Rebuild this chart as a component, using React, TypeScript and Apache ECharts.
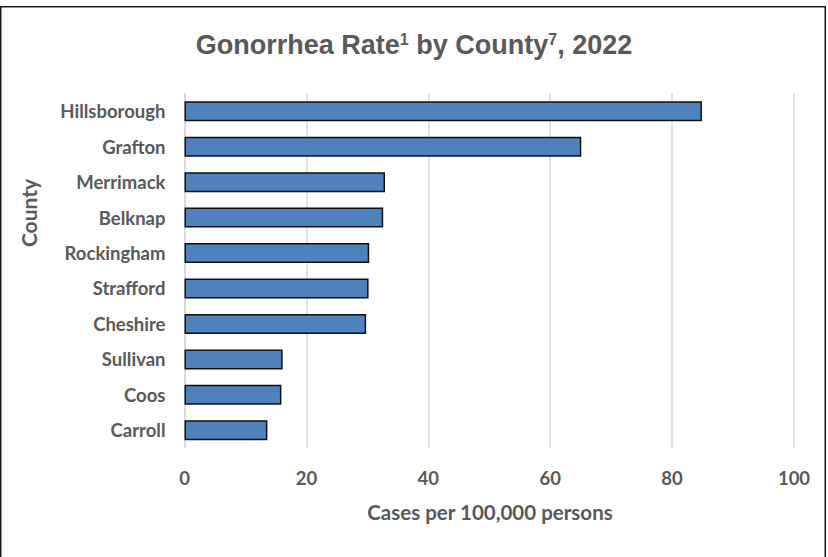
import React, { useEffect, useRef } from "react";
import * as echarts from "echarts";

const counties = [
  "Hillsborough",
  "Grafton",
  "Merrimack",
  "Belknap",
  "Rockingham",
  "Strafford",
  "Cheshire",
  "Sullivan",
  "Coos",
  "Carroll",
];
const rates = [84.9, 65.1, 32.9, 32.6, 30.3, 30.2, 29.8, 16.1, 15.9, 13.6];
const xTicks = [0, 20, 40, 60, 80, 100];

const TEXT = "#595959";
const LABEL_FONT = "Lato, 'Open Sans', sans-serif";

export default function App() {
  const ref = useRef<HTMLDivElement>(null);
  useEffect(() => {
    if (!ref.current) return;
    const chart = echarts.init(ref.current, null, { renderer: "svg" });
    chart.setOption({
      animation: false,
      backgroundColor: "#ffffff",
      title: {
        text: "{m|Gonorrhea Rate}{s|1}{m| by County}{s|7}{m|, 2022}",
        left: "center",
        top: 24,
        textStyle: {
          rich: {
            m: {
              fontFamily: "'Liberation Sans', Arial, sans-serif",
              fontWeight: "bold",
              fontSize: 27,
              color: TEXT,
              lineHeight: 32,
            },
            s: {
              fontFamily: "'Liberation Sans', Arial, sans-serif",
              fontWeight: "bold",
              fontSize: 16,
              color: TEXT,
              lineHeight: 32,
              padding: [0, 0, 12, 0],
            },
          },
        },
      },
      grid: { left: 184.5, right: 34, top: 93.5, bottom: 109 },
      xAxis: {
        type: "value",
        min: 0,
        max: 100,
        interval: 20,
        axisLine: { show: false },
        axisTick: { show: false },
        splitLine: { lineStyle: { color: "#d9d9d9", width: 1.5 } },
        axisLabel: {
          margin: 20,
          color: TEXT,
          fontFamily: LABEL_FONT,
          fontWeight: "bold",
          fontSize: 18.5,
          formatter: (v: number) => (xTicks.includes(v) ? String(v) : ""),
        },
      },
      yAxis: {
        type: "category",
        data: counties,
        inverse: true,
        axisLine: { show: true, lineStyle: { color: "#d9d9d9", width: 1.5 } },
        axisTick: { show: false },
        axisLabel: {
          margin: 19,
          color: TEXT,
          fontFamily: LABEL_FONT,
          fontWeight: "bold",
          fontSize: 18.5,
        },
      },
      series: [
        {
          type: "bar",
          data: rates,
          barWidth: 20,
          itemStyle: {
            color: "#4F81BD",
            borderColor: "#111111",
            borderWidth: 1.5,
          },
        },
      ],
      graphic: [
        {
          type: "rect",
          shape: { x: 0.75, y: 6.75, width: 824.5, height: 600 },
          style: { fill: "none", stroke: "#1a1a1a", lineWidth: 1.5 },
          silent: true,
        },
        {
          type: "text",
          x: 490,
          y: 512,
          style: {
            text: "Cases per 100,000 persons",
            fill: TEXT,
            font: `bold 20.5px ${LABEL_FONT}`,
            textAlign: "center",
            textVerticalAlign: "middle",
          },
        },
        {
          type: "text",
          x: 28,
          y: 213,
          rotation: Math.PI / 2,
          style: {
            text: "County",
            fill: TEXT,
            font: `bold 21px ${LABEL_FONT}`,
            textAlign: "center",
            textVerticalAlign: "middle",
          },
        },
      ],
    });
    return () => chart.dispose();
  }, []);
  return (
    <div
      ref={ref}
      style={{ position: "absolute", left: 0, top: 0, width: 828, height: 557 }}
    />
  );
}
